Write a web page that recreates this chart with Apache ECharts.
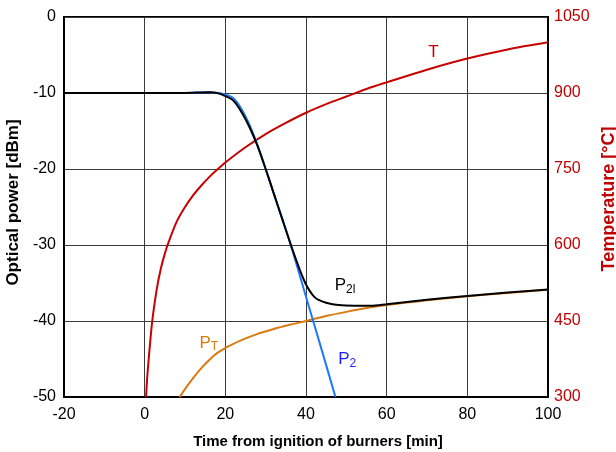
<!DOCTYPE html>
<html>
<head>
<meta charset="utf-8">
<script src="https://cdn.jsdelivr.net/npm/echarts@6/dist/echarts.min.js"></script>
<style>
  html, body { margin: 0; padding: 0; background: #fff; }
  #chart { width: 616px; height: 452px; }
</style>
</head>
<body>
<div id="chart"></div>
<script>
// P2l (black) - measured power
const p2lTime = [-20, 0, 10, 16, 18, 20, 22, 24, 26, 28, 30, 32, 34, 36, 38, 39, 40, 41, 42, 43, 45, 48, 52, 56, 60, 70, 80, 90, 100];
const p2lPower = [-10, -10, -10, -9.9, -10, -10.4, -11.0, -12.5, -14.5, -17.0, -20.0, -23.2, -26.4, -29.6, -32.6, -34.0, -35.2, -36.1, -36.8, -37.2, -37.6, -37.9, -38.0, -38.0, -37.8, -37.2, -36.7, -36.25, -35.85];

// P2 (blue)
const p2Time = [-20, 0, 10, 16, 18, 20, 22, 24, 26, 28, 30, 32, 34, 36, 40, 44, 47.3];
const p2Power = [-10, -10, -10, -9.9, -10, -10.2, -10.7, -12.1, -14.2, -16.9, -20.0, -23.2, -26.4, -29.6, -36.8, -44.0, -50];

// PT (orange)
const ptTime = [8.7, 10, 12, 14, 16, 18, 20, 22, 24, 28, 32, 36, 40, 45, 50, 55, 60, 65, 70, 80, 90, 100];
const ptPower = [-50, -48.96, -47.52, -46.24, -45.14, -44.2, -43.55, -43.0, -42.52, -41.7, -41.05, -40.5, -40.0, -39.35, -38.8, -38.3, -37.9, -37.57, -37.28, -36.75, -36.3, -35.9];

// T (red) - temperature, right axis
const tempTime = [0.35, 0.6, 1, 1.5, 2, 3, 4, 5, 6, 8, 10, 12, 14, 16, 18, 20, 25, 30, 35, 40, 45, 50, 55, 60, 70, 80, 90, 100];
const tempValue = [300, 335, 375, 420, 458, 513, 553, 583, 607, 647, 675, 698, 717, 734, 749, 763, 793, 819, 841, 861, 878, 893, 908, 921, 946, 968, 986, 1000];

const zip = (xs, ys) => xs.map((x, i) => [x, ys[i]]);

const font = 'Liberation Sans, Arial, sans-serif';

function tag(coord, text, color) {
  return {
    symbol: 'circle',
    symbolSize: 1,
    itemStyle: { color: 'rgba(0,0,0,0)' },
    data: [{ coord: coord }],
    label: {
      show: true,
      position: 'inside',
      formatter: text,
      color: color,
      fontFamily: font,
      rich: {
        p: { fontSize: 17, color: color, fontFamily: font },
        s: { fontSize: 12, color: color, fontFamily: font, padding: [8, 0, 0, 0] }
      }
    }
  };
}

const chart = echarts.init(document.getElementById('chart'));
chart.setOption({
  animation: false,
  backgroundColor: '#fff',
  grid: {
    left: 64, right: 68, top: 17, bottom: 55,
    outerBoundsMode: 'none', containLabel: false,
    show: true, borderColor: '#000', borderWidth: 2
  },
  xAxis: {
    type: 'value', min: -20, max: 100, interval: 20,
    name: 'Time from ignition of burners [min]',
    nameLocation: 'middle', nameGap: 37,
    nameTextStyle: { fontFamily: font, fontSize: 15, fontWeight: 'bold', color: '#000', padding: [0, 0, 0, 24] },
    axisLine: { show: true, onZero: false, lineStyle: { color: '#000', width: 2 } },
    axisTick: { show: false },
    axisLabel: { fontFamily: font, fontSize: 16, color: '#000', margin: 10 },
    splitLine: { show: true, lineStyle: { color: '#3a3a3a', width: 1 } }
  },
  yAxis: [{
    type: 'value', min: -50, max: 0, interval: 10,
    name: 'Optical power [dBm]',
    nameLocation: 'middle', nameGap: 35, nameRotate: 90,
    nameTextStyle: { fontFamily: font, fontSize: 17, fontWeight: 'bold', color: '#000', padding: [0, 0, 0, 9] },
    axisLine: { show: true, onZero: false, lineStyle: { color: '#000', width: 2 } },
    axisTick: { show: false },
    axisLabel: { fontFamily: font, fontSize: 16, color: '#000', margin: 8 },
    splitLine: { show: true, lineStyle: { color: '#3a3a3a', width: 1 } }
  }, {
    type: 'value', min: 300, max: 1050, interval: 150, position: 'right',
    name: 'Temperature [°C]',
    nameLocation: 'middle', nameGap: 46, nameRotate: 90,
    nameTextStyle: { fontFamily: font, fontSize: 18, fontWeight: 'bold', color: '#c00000', padding: [0, 0, 0, 16] },
    axisLine: { show: true, onZero: false, lineStyle: { color: '#000', width: 2 } },
    axisTick: { show: false },
    axisLabel: { fontFamily: font, fontSize: 16, color: '#c00000', margin: 6, formatter: v => String(v) },
    splitLine: { show: false }
  }],
  series: [
    {
      name: 'T', type: 'line', yAxisIndex: 1, data: zip(tempTime, tempValue),
      smooth: 0.3, showSymbol: false,
      lineStyle: { color: '#c80000', width: 2 },
      markPoint: tag([71.6, 981], '{p|T}', '#c80000')
    },
    {
      name: 'PT', type: 'line', data: zip(ptTime, ptPower),
      smooth: 0.3, showSymbol: false,
      lineStyle: { color: '#dc7a10', width: 2 },
      markPoint: tag([15.9, -42.9], '{p|P}{s|T}', '#dc7a10')
    },
    {
      name: 'P2', type: 'line', data: zip(p2Time, p2Power),
      smooth: 0.3, showSymbol: false,
      lineStyle: { color: '#1a78ff', width: 2 },
      markPoint: tag([50.2, -45.1], '{p|P}{s|2}', '#1e1eff')
    },
    {
      name: 'P2l', type: 'line', data: zip(p2lTime, p2lPower),
      smooth: 0.3, showSymbol: false,
      lineStyle: { color: '#000', width: 2 },
      markPoint: tag([49.7, -35.3], '{p|P}{s|2l}', '#000')
    }
  ]
});
</script>
</body>
</html>
